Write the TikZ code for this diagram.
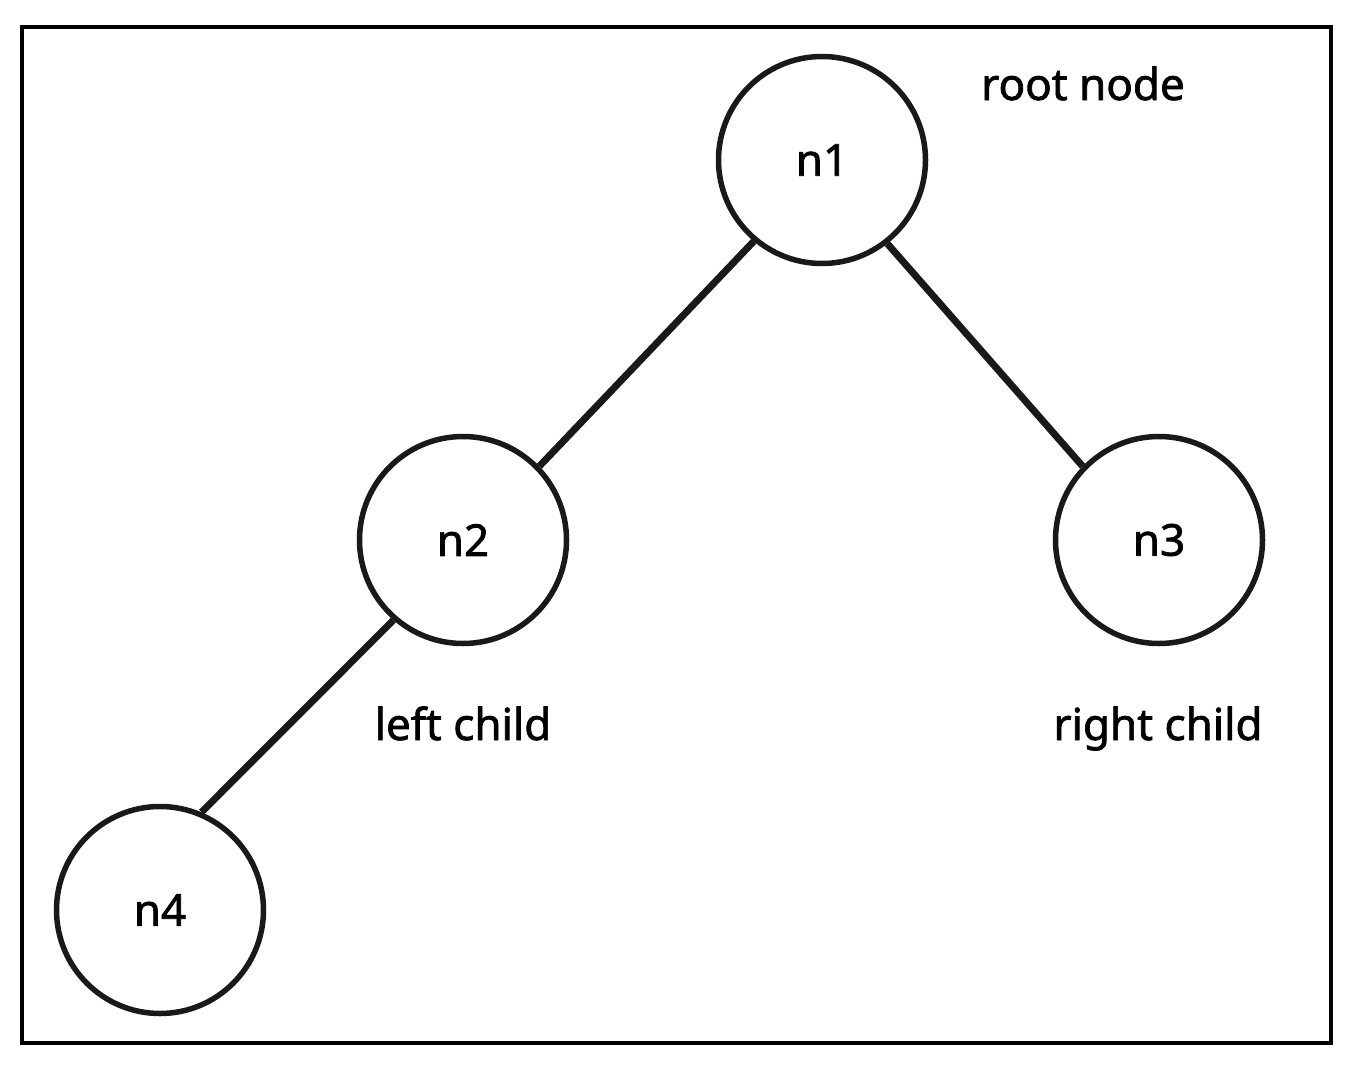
\documentclass[tikz,border=0pt]{standalone}
\usepackage{fontspec}
\setmainfont{Noto Sans}
\newfontfamily\treefont[FakeBold=1.6]{Noto Sans}
\begin{document}
\begin{tikzpicture}[x=1pt,y=-1pt,
  treenode/.style={circle,draw=black!90,line width=5.5pt,minimum size=207pt,inner sep=0pt,
    font=\treefont\fontsize{44}{50}\selectfont},
  edge/.style={draw=black!90,line width=7pt},
  caption/.style={anchor=base,font=\treefont\fontsize{44}{50}\selectfont}]
  % page and frame
  \useasboundingbox (0,0) rectangle (1359,1065);
  \fill[white] (0,0) rectangle (1359,1065);
  \draw[line width=3.5pt] (22,27) rectangle (1331,1043);
  % tree nodes
  \node[treenode] (n1) at (822,160) {n1};
  \node[treenode] (n2) at (463,540) {n2};
  \node[treenode] (n3) at (1159,540) {n3};
  \node[treenode] (n4) at (160,910) {n4};
  % edges
  \draw[edge] (n1.230) -- (n2.44);
  \draw[edge] (n1.308) -- (n3.136);
  \draw[edge] (n2.229) -- (n4.67);
  % labels
  \node[caption] (lroot) at (1083,100) {root node};
  \node[caption] (lleft) at (463,740) {left child};
  \node[caption] (lright) at (1158,740) {right child};
\end{tikzpicture}
\end{document}
